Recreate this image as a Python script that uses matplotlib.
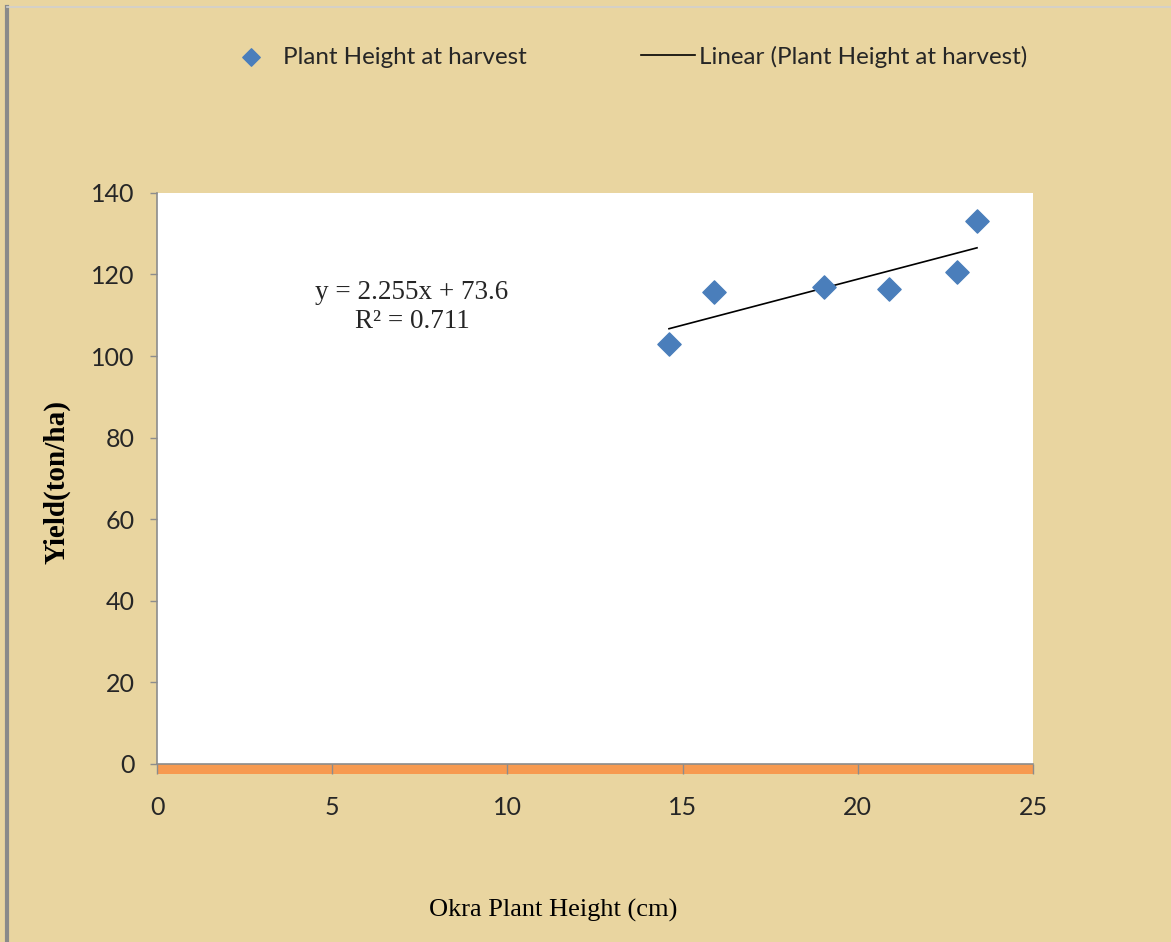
import numpy as np
import matplotlib
matplotlib.use("Agg")
import matplotlib.pyplot as plt
from matplotlib.lines import Line2D
from matplotlib.patches import Rectangle

# data
plant_height = [14.61, 15.90, 19.04, 20.89, 22.83, 23.40]
yield_t_ha = [103.0, 115.7, 116.9, 116.4, 120.6, 133.1]

x_ticks = [0, 5, 10, 15, 20, 25]
y_ticks = [0, 20, 40, 60, 80, 100, 120, 140]

paper = "#E9D5A0"
marker_blue = "#4A7EBB"
band_orange = "#F79A50"
axis_grey = "#8C8C8C"
text_dark = "#262626"

fig = plt.figure(figsize=(11.71, 9.42), dpi=100, facecolor=paper)

# grey frame on the left / top edge of the slide
fig.add_artist(Line2D([0.006, 0.006], [0.0, 0.993], transform=fig.transFigure,
                      color="#8A8A8A", lw=3))
fig.add_artist(Line2D([0.006, 1.0], [0.993, 0.993], transform=fig.transFigure,
                      color="#D0D0D0", lw=1.2))

ax = fig.add_axes([0.1341, 0.1890, 0.7481, 0.6062])
ax.set_facecolor("white")

ax.scatter(plant_height, yield_t_ha, marker="D", s=140, color=marker_blue,
           zorder=3, label="Plant Height at harvest")

# linear trend fitted from the points
slope, intercept = np.polyfit(plant_height, yield_t_ha, 1)
xs = np.array([min(plant_height), max(plant_height)])
ax.plot(xs, slope * xs + intercept, color="black", lw=1.2, zorder=2,
        label="Linear (Plant Height at harvest)")

ax.set_xlim(0, 25)
ax.set_ylim(0, 140)
ax.set_xticks(x_ticks)
ax.set_yticks(y_ticks)

for side in ("top", "right"):
    ax.spines[side].set_visible(False)
for side in ("left", "bottom"):
    ax.spines[side].set_color(axis_grey)
    ax.spines[side].set_linewidth(1.2)

ax.tick_params(axis="y", direction="out", length=5, width=1, color=axis_grey,
               pad=11, labelsize=18, labelcolor=text_dark)
ax.tick_params(axis="x", direction="out", length=7, width=1, color=axis_grey,
               pad=16, labelsize=18, labelcolor=text_dark)
for lab in ax.get_xticklabels() + ax.get_yticklabels():
    lab.set_family("Lato")

# orange floor under the plot area
ax.add_patch(Rectangle((0, -0.018), 1, 0.018, transform=ax.transAxes,
                       facecolor=band_orange, edgecolor="none", clip_on=False,
                       zorder=1))

ax.text(0.291, 0.80, "y = 2.255x + 73.6\nR\u00b2 = 0.711", transform=ax.transAxes,
        ha="center", va="center", family="Liberation Serif", fontsize=19.5,
        color=text_dark, linespacing=1.2)

fig.text(0.0487, 0.488, "Yield(ton/ha)", rotation=90, ha="center", va="center",
         family="Liberation Serif", fontweight="bold", fontsize=21, color="black")
fig.text(0.472, 0.033, "Okra Plant Height (cm)", ha="center", va="center",
         family="Liberation Serif", fontsize=19, color="black")

handles, labels = ax.get_legend_handles_labels()
fig.legend(handles, labels, loc="center left", bbox_to_anchor=(0.1734, 0.94),
           ncol=2, frameon=False, prop={"family": "Lato", "size": 17.4},
           handlelength=2.2, handletextpad=0.2, columnspacing=4.75,
           markerscale=0.75, labelcolor=text_dark)

fig.savefig("out.png", dpi=100, facecolor=paper)
